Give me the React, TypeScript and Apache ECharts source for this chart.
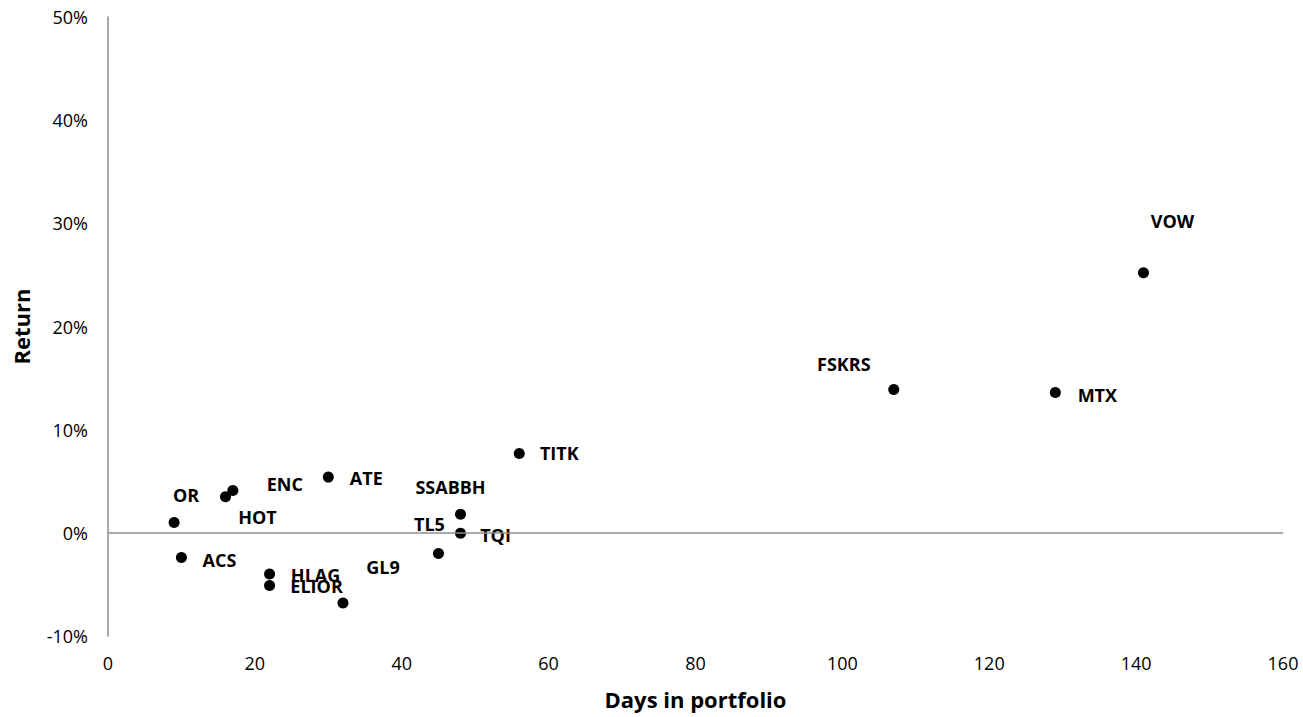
import React, { useEffect, useRef } from "react";
import * as echarts from "echarts";

const tickers = ["VOW", "FSKRS", "MTX", "TITK", "ATE", "ENC", "HOT", "OR", "ACS", "HLAG", "ELIOR", "GL9", "TL5", "TQI", "SSABBH"];
const daysInPortfolio = [141, 107, 129, 56, 30, 17, 16, 9, 10, 22, 22, 32, 45, 48, 48];
const returnsPct = [25.2, 13.9, 13.6, 7.7, 5.4, 4.1, 3.5, 1.0, -2.4, -4.0, -5.1, -6.8, -2.0, -0.05, 1.8];
// label placement offsets (px) relative to the point centre
const labelOffsets: [number, number][] = [
  [29, -52], [-50, -25], [42, 2], [40, 0], [38, 1], [52, -7], [32, 20], [12, -28],
  [38, 2], [46, 1], [47, 1], [40, -36], [-9, -29], [35, 2], [-10, -27],
];

const FONT = "'Open Sans', sans-serif";

export default function App() {
  const ref = useRef<HTMLDivElement>(null);
  useEffect(() => {
    if (!ref.current) return;
    const chart = echarts.init(ref.current, null, { renderer: "svg" });
    const data = tickers.map((name, i) => ({
      name,
      value: [daysInPortfolio[i], returnsPct[i]],
      label: { offset: labelOffsets[i] },
    }));
    chart.setOption({
      animation: false,
      backgroundColor: "#ffffff",
      grid: { left: 108, right: 20, top: 17, bottom: 81, containLabel: false },
      xAxis: {
        type: "value",
        min: 0,
        max: 160,
        interval: 20,
        name: "Days in portfolio",
        nameLocation: "middle",
        nameGap: 52,
        nameTextStyle: { fontFamily: FONT, fontSize: 22, fontWeight: "bold", color: "#000" },
        axisLine: { show: false, onZero: false },
        axisTick: { show: false },
        splitLine: { show: false },
        axisLabel: { fontFamily: FONT, fontSize: 18, color: "#000", margin: 18 },
      },
      yAxis: {
        type: "value",
        min: -10,
        max: 50,
        interval: 10,
        name: "Return",
        nameLocation: "middle",
        nameGap: 76,
        nameRotate: 90,
        nameTextStyle: { fontFamily: FONT, fontSize: 22, fontWeight: "bold", color: "#000" },
        axisLine: { show: true, onZero: false, lineStyle: { color: "#8c8c8c", width: 1.5 } },
        axisTick: { show: false },
        splitLine: { show: false },
        axisLabel: { fontFamily: FONT, fontSize: 18, color: "#000", margin: 20, formatter: "{value}%" },
      },
      series: [
        {
          type: "scatter",
          symbol: "circle",
          symbolSize: 11,
          itemStyle: { color: "#000", opacity: 1 },
          data,
          label: {
            show: true,
            position: "inside",
            formatter: (p: any) => p.name,
            fontFamily: FONT,
            fontSize: 18,
            fontWeight: "bold",
            color: "#000",
          },
          markLine: {
            silent: true,
            symbol: ["none", "none"],
            label: { show: false },
            lineStyle: { color: "#8c8c8c", type: "solid", width: 1.5, opacity: 1 },
            data: [{ yAxis: 0 }],
          },
        },
      ],
    });
    return () => chart.dispose();
  }, []);
  return <div ref={ref} style={{ position: "fixed", left: 0, top: 0, width: 1303, height: 717 }} />;
}
